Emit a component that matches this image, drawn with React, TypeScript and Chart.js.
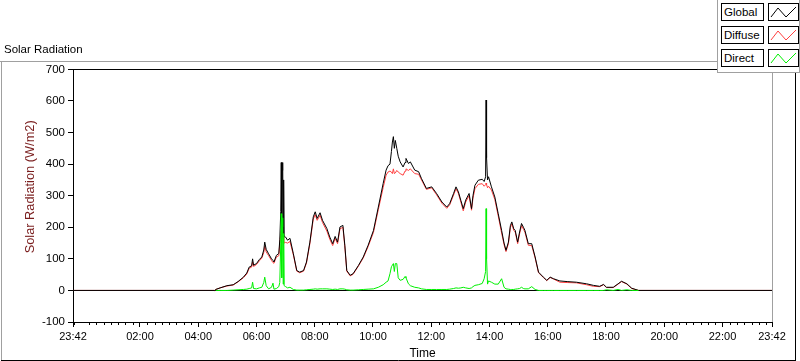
import React, { useEffect, useRef } from "react";
import { Chart, registerables } from "chart.js";

Chart.register(...registerables);

const FONT = "'Liberation Sans', Arial, sans-serif";

// time of each sample, minutes from midnight (23:42 of the previous day = -18)
const minutes = [
  -18, 274, 276, 285, 299, 312, 322, 333, 340, 345,
  350, 352, 354, 360, 366, 371, 375, 377, 380, 385,
  391, 394, 396, 401, 406, 408, 410, 411, 412, 413,
  414, 415, 416, 417, 420, 424, 429, 436, 443, 449,
  457, 463, 470, 477, 481, 485, 491, 496, 505, 511,
  517, 522, 527, 532, 538, 542, 546, 553, 559, 570,
  580, 590, 601, 611, 621, 627, 631, 635, 638, 640,
  642, 644, 646, 649, 652, 656, 662, 666, 668, 673,
  677, 686, 694, 700, 710, 721, 731, 742, 752, 758,
  766, 771, 776, 781, 786, 791, 798, 803, 806, 810,
  817, 825, 829, 832, 833, 834, 836, 838, 844, 851,
  858, 865, 870, 874, 879, 883, 886, 890, 893, 898,
  902, 906, 910, 913, 920, 927, 934, 941, 951, 958,
  965, 972, 985, 1000, 1019, 1040, 1054, 1067, 1075, 1081,
  1095, 1105, 1112, 1123, 1133, 1147, 1422,
];

const globalValues = [
  0, 0, 3, 8, 15, 18, 28, 42, 55, 74,
  78, 100, 80, 85, 98, 106, 128, 153, 130, 116,
  100, 95, 90, 111, 117, 160, 250, 405, 200, 380,
  405, 180, 350, 170, 169, 159, 165, 116, 63, 58,
  63, 90, 153, 233, 249, 228, 246, 222, 196, 169,
  148, 171, 153, 201, 206, 143, 63, 48, 53, 79,
  106, 143, 190, 264, 339, 381, 395, 400, 440, 470,
  487, 450, 475, 450, 425, 407, 391, 405, 418, 402,
  407, 381, 376, 354, 323, 328, 307, 280, 264, 275,
  307, 328, 312, 285, 259, 286, 307, 259, 300, 333,
  349, 352, 345, 360, 603, 420, 350, 360, 328, 296,
  243, 190, 150, 127, 153, 205, 217, 195, 190, 153,
  185, 212, 200, 190, 148, 148, 106, 58, 42, 32,
  42, 37, 30, 28, 26, 21, 16, 13, 19, 10,
  10, 21, 29, 21, 7, 0, 0,
];

const diffuseValues = [
  0, 0, 3, 8, 14, 17, 27, 40, 52, 70,
  74, 90, 76, 82, 94, 102, 120, 140, 122, 110,
  95, 88, 86, 106, 110, 150, 180, 190, 170, 185,
  180, 160, 175, 150, 152, 150, 155, 112, 61, 56,
  61, 87, 148, 226, 240, 222, 238, 215, 188, 162,
  142, 165, 148, 195, 200, 138, 61, 46, 51, 77,
  103, 139, 184, 256, 326, 365, 375, 378, 375, 370,
  385, 370, 372, 380, 375, 370, 365, 378, 385, 380,
  385, 370, 368, 350, 320, 325, 303, 276, 260, 271,
  302, 322, 307, 280, 252, 280, 300, 254, 292, 322,
  336, 338, 330, 335, 340, 335, 325, 330, 318, 288,
  236, 182, 145, 123, 148, 199, 211, 190, 185, 148,
  179, 205, 194, 184, 143, 142, 103, 56, 41, 31,
  41, 36, 26, 25, 24, 18, 13, 12, 18, 9,
  9, 20, 28, 20, 6, 0, 0,
];

const directValues: (number | null)[] = [
  null, null, 0, 0, 0, 1, 2, 3, 4, 6,
  8, 26, 6, 5, 8, 10, 25, 42, 15, 5,
  10, 23, 4, 6, 12, 25, 150, 243, 40, 201,
  230, 20, 180, 15, 12, 8, 10, 3, 1, 1,
  1, 2, 3, 4, 5, 4, 5, 5, 5, 4,
  3, 4, 3, 5, 5, 4, 2, 1, 1, 2,
  3, 4, 5, 10, 18, 26, 30, 53, 75, 80,
  85, 60, 85, 85, 40, 32, 35, 44, 40, 21,
  15, 10, 8, 5, 3, 3, 3, 3, 3, 4,
  6, 8, 7, 8, 10, 8, 6, 8, 12, 16,
  18, 22, 37, 60, 259, 100, 20, 30, 26, 20,
  20, 37, 10, 5, 4, 3, 3, 3, 4, 5,
  6, 10, 6, 5, 5, 12, 3, 0, 0, 0,
  0, 0, 0, 0, 0, 0, 0, 0, 0, 2,
  0, 3, 0, 2, 0, 0, null,
];

const seriesNames = ["Global", "Diffuse", "Direct"];
const seriesColors = ["#000000", "#ff4040", "#00f000"];

// x-axis major tick positions (minutes) and y-axis range
const xMajorTicks = [-18, 120, 240, 360, 480, 600, 720, 840, 960, 1080, 1200, 1320, 1422];
const xMin = -18;
const xMax = 1422;
const yMin = -100;
const yMax = 700;
const yStep = 100;

function fmtTime(m: number): string {
  const mm = ((Math.round(m) % 1440) + 1440) % 1440;
  const h = Math.floor(mm / 60);
  const mi = mm % 60;
  return String(h).padStart(2, "0") + ":" + String(mi).padStart(2, "0");
}

const framePlugin = {
  id: "lvFrame",
  beforeDraw(chart: any) {
    const ctx = chart.ctx;
    ctx.save();
    ctx.fillStyle = "#ffffff";
    ctx.fillRect(0, 0, chart.width, chart.height);
    ctx.lineWidth = 1;
    ctx.strokeStyle = "#a0a0a0";
    ctx.beginPath();
    ctx.moveTo(0, 61.5);
    ctx.lineTo(800, 61.5);
    ctx.moveTo(1.5, 61);
    ctx.lineTo(1.5, 361);
    ctx.stroke();
    ctx.strokeStyle = "#000000";
    ctx.beginPath();
    ctx.moveTo(1, 360.5);
    ctx.lineTo(796, 360.5);
    ctx.moveTo(795.5, 61);
    ctx.lineTo(795.5, 361);
    ctx.stroke();
    ctx.restore();
  },
  afterDraw(chart: any) {
    const ctx = chart.ctx;
    const a = chart.chartArea;
    const xs = chart.scales.x;
    ctx.save();
    ctx.lineWidth = 1;
    ctx.strokeStyle = "#000000";
    ctx.beginPath();
    const top = Math.round(a.top) + 0.5;
    ctx.moveTo(Math.round(a.left), top);
    ctx.lineTo(Math.round(a.right) + 1, top);
    ctx.stroke();
    ctx.strokeStyle = "#a0a0a0";
    ctx.beginPath();
    const rx = Math.round(a.right) + 0.5;
    ctx.moveTo(rx, Math.round(a.top) + 1);
    ctx.lineTo(rx, Math.round(a.bottom));
    ctx.stroke();
    // minor ticks every 15 minutes
    ctx.strokeStyle = "#000000";
    ctx.beginPath();
    const b = Math.round(a.bottom);
    for (let m = -15; m < xMax; m += 15) {
      if (((m % 120) + 120) % 120 === 0) continue;
      const px = Math.round(xs.getPixelForValue(m)) + 0.5;
      ctx.moveTo(px, b);
      ctx.lineTo(px, b + 3);
    }
    ctx.stroke();
    ctx.restore();
  },
};

export default function App() {
  const ref = useRef<HTMLCanvasElement>(null);

  useEffect(() => {
    const values = [globalValues, diffuseValues, directValues];
    const orders = [1, 2, 0];
    const chart = new Chart(ref.current as HTMLCanvasElement, {
      type: "line",
      data: {
        datasets: seriesNames.map((name, i) => ({
          label: name,
          data: minutes.map((m, j) => ({ x: m, y: values[i][j] as any })),
          borderColor: seriesColors[i],
          backgroundColor: seriesColors[i],
          borderWidth: 1,
          pointRadius: 0,
          tension: 0,
          fill: false,
          spanGaps: false,
          order: orders[i],
        })),
      },
      options: {
        animation: false,
        responsive: false,
        events: [],
        layout: { padding: { left: 4, right: 28, top: 0, bottom: 0 } },
        plugins: {
          legend: { display: false },
          tooltip: { enabled: false },
          title: {
            display: true,
            text: "Solar Radiation",
            align: "start",
            color: "#000000",
            font: { family: FONT, size: 11.5, weight: "normal" },
            padding: { top: 43, bottom: 12.6 },
          },
        },
        scales: {
          x: {
            type: "linear",
            min: xMin,
            max: xMax,
            afterFit: (s: any) => {
              s.height = 39;
            },
            afterBuildTicks: (s: any) => {
              s.ticks = xMajorTicks.map((v) => ({ value: v }));
            },
            ticks: {
              autoSkip: false,
              maxRotation: 0,
              minRotation: 0,
              padding: 3,
              color: "#000000",
              font: { family: FONT, size: 11 },
              callback: (v: any) => fmtTime(Number(v)),
            },
            grid: {
              color: "rgba(0,0,0,0)",
              tickColor: "#000000",
              tickLength: 5,
              drawTicks: true,
            },
            border: { display: true, color: "#000000", width: 1 },
            title: {
              display: true,
              text: "Time",
              color: "#000000",
              font: { family: FONT, size: 12 },
              padding: { top: 0, bottom: 0 },
            },
          },
          y: {
            type: "linear",
            min: yMin,
            max: yMax,
            afterFit: (s: any) => {
              s.width = 69;
            },
            ticks: {
              stepSize: yStep,
              padding: 3,
              color: "#000000",
              font: { family: FONT, size: 11.5 },
            },
            grid: {
              color: (c: any) => (c.tick && c.tick.value === 0 ? "#000000" : "rgba(0,0,0,0)"),
              tickColor: "#000000",
              tickLength: 5,
              lineWidth: 1,
            },
            border: { display: true, color: "#000000", width: 1 },
            title: {
              display: true,
              text: "     Solar Radiation (W/m2)",
              color: "#7a1e1e",
              font: { family: FONT, size: 12.8 },
              padding: { top: 19, bottom: 0 },
            },
          },
        },
      },
      plugins: [framePlugin],
    } as any);
    return () => chart.destroy();
  }, []);

  return (
    <div
      style={{
        position: "fixed",
        left: 0,
        top: 0,
        width: 800,
        height: 361,
        background: "#ffffff",
        overflow: "hidden",
      }}
    >
      <canvas ref={ref} width={800} height={361} style={{ display: "block", width: 800, height: 361 }} />
      <div
        style={{
          position: "absolute",
          left: 717,
          top: 0,
          width: 83,
          height: 73,
          background: "#ffffff",
          borderLeft: "1px solid #a0a0a0",
          borderBottom: "1px solid #a0a0a0",
          borderRight: "1px solid #a0a0a0",
          boxSizing: "border-box",
        }}
      />
      {seriesNames.map((name, i) => (
        <React.Fragment key={name}>
          <div
            style={{
              position: "absolute",
              left: 721,
              top: 3 + i * 23,
              width: 43,
              height: 18,
              border: "1px solid #000",
              boxSizing: "border-box",
              background: "#fff",
              fontFamily: FONT,
              fontSize: 11.5,
              lineHeight: "16px",
              paddingLeft: 2,
              color: "#000",
              whiteSpace: "nowrap",
            }}
          >
            {name}
          </div>
          <div
            style={{
              position: "absolute",
              left: 768,
              top: 3 + i * 23,
              width: 31,
              height: 18,
              border: "1px solid #000",
              boxSizing: "border-box",
              background: "#fff",
            }}
          >
            <svg width={29} height={16} style={{ display: "block" }}>
              <polyline
                points="2,13 9,4 17,13 27,3"
                fill="none"
                stroke={seriesColors[i]}
                strokeWidth={1}
              />
            </svg>
          </div>
        </React.Fragment>
      ))}
    </div>
  );
}
